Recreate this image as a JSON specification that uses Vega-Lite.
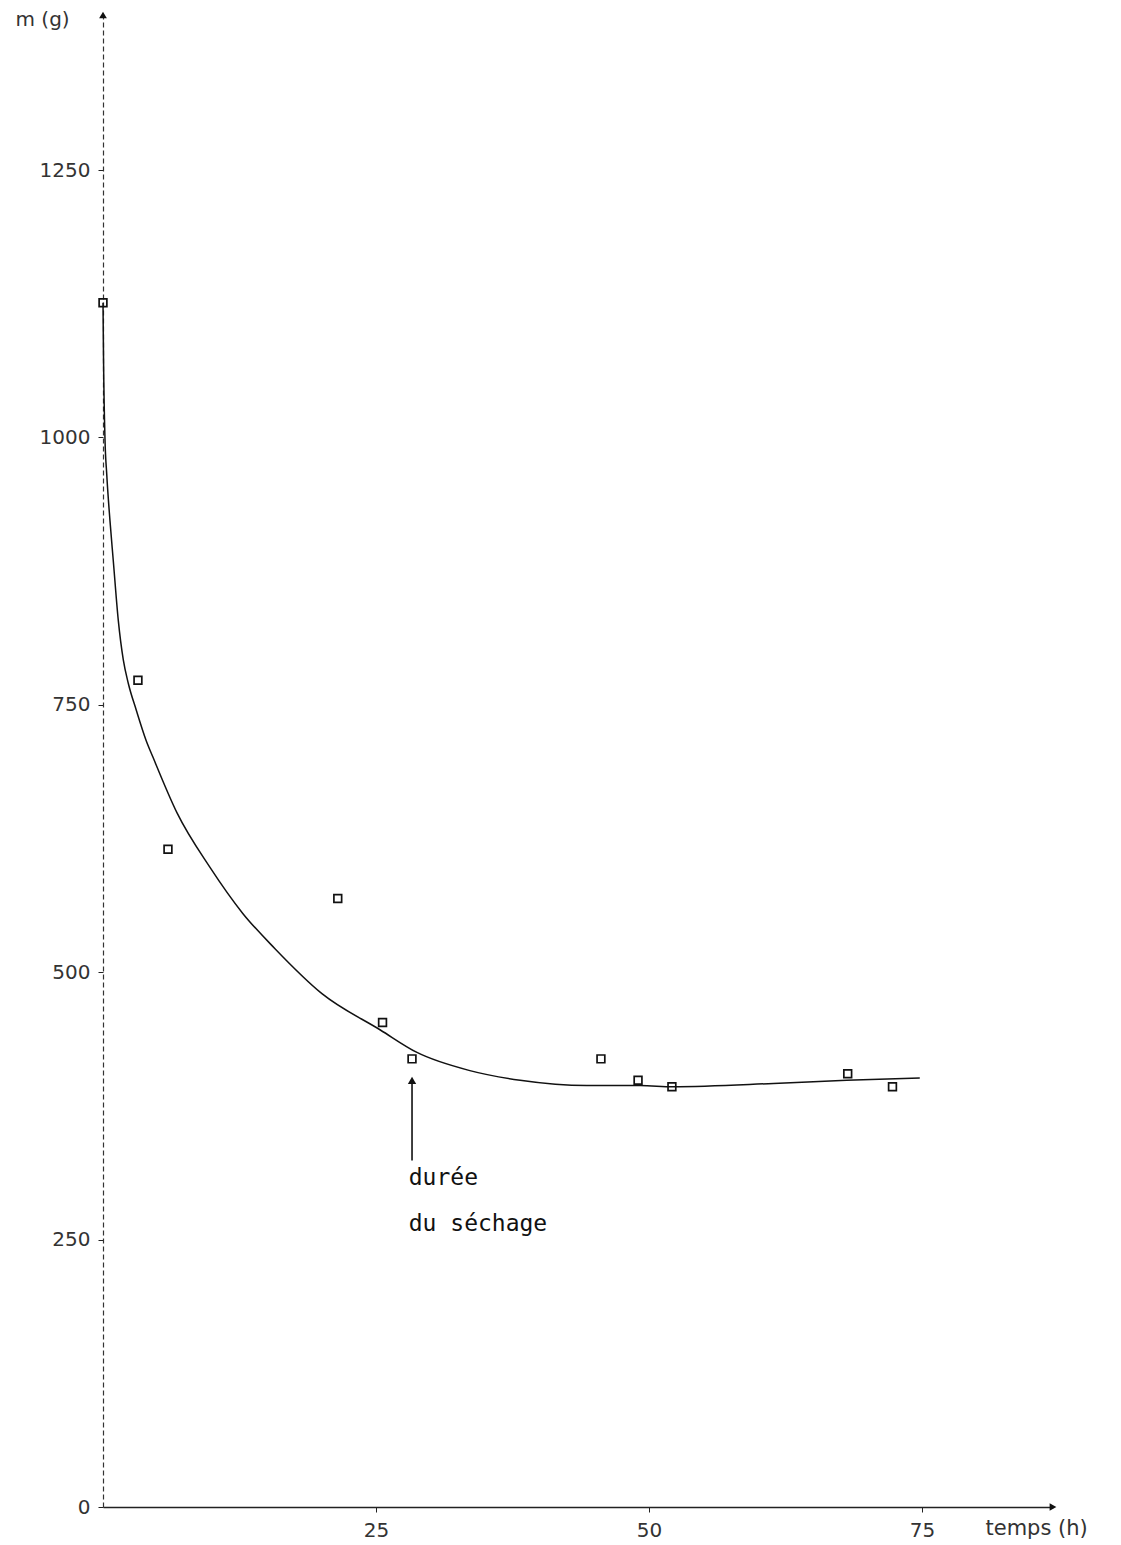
{
  "$schema": "https://vega.github.io/schema/vega-lite/v6.json",
  "autosize": {"type": "none"},
  "width": 950,
  "height": 1492,
  "padding": {"left": 103, "top": 15, "right": 68, "bottom": 38},
  "background": "white",
  "config": {"view": {"stroke": null}},
  "datasets": {
    "points": [
      {"t": 0, "m": 1126},
      {"t": 3.2, "m": 773},
      {"t": 5.95, "m": 615},
      {"t": 21.5, "m": 569},
      {"t": 25.6, "m": 453},
      {"t": 28.3, "m": 419},
      {"t": 45.6, "m": 419},
      {"t": 49.0, "m": 399},
      {"t": 52.1, "m": 393},
      {"t": 68.2, "m": 405},
      {"t": 72.3, "m": 393}
    ],
    "curve": [
      {"t": 0.0, "m": 1126},
      {"t": 0.05, "m": 1072},
      {"t": 0.18, "m": 999},
      {"t": 0.34, "m": 966},
      {"t": 0.64, "m": 922},
      {"t": 0.94, "m": 885},
      {"t": 1.40, "m": 829},
      {"t": 1.86, "m": 792},
      {"t": 2.32, "m": 770},
      {"t": 3.05, "m": 745},
      {"t": 3.94, "m": 717},
      {"t": 4.58, "m": 701},
      {"t": 6.78, "m": 649},
      {"t": 9.8, "m": 598},
      {"t": 12.8, "m": 555},
      {"t": 15.75, "m": 522},
      {"t": 20.05, "m": 480},
      {"t": 25.4, "m": 446},
      {"t": 28.75, "m": 425},
      {"t": 33.6, "m": 408},
      {"t": 38.2, "m": 399},
      {"t": 44.3, "m": 394},
      {"t": 49.2, "m": 394},
      {"t": 52.2, "m": 393},
      {"t": 61.4, "m": 396},
      {"t": 68.1, "m": 399},
      {"t": 74.8, "m": 401}
    ],
    "annot": [
      {"t": 28.3, "m": 324, "m2": 399}
    ],
    "labels": [
      {"t": 28, "m": 308, "txt": "durée"},
      {"t": 28, "m": 265, "txt": "du séchage"}
    ],
    "arrows": [
      {"t": 0, "m": 1395, "shape": "triangle-up"},
      {"t": 87, "m": 0, "shape": "triangle-right"}
    ]
  },
  "layer": [
    {
      "data": {"name": "curve"},
      "mark": {"type": "line", "interpolate": "monotone", "color": "#111", "strokeWidth": 1.5},
      "encoding": {
        "x": {
          "field": "t", "type": "quantitative",
          "scale": {"domain": [0, 87], "nice": false, "zero": true},
          "axis": {
            "values": [25, 50, 75],
            "format": "d",
            "title": "temps (h)",
            "titleAnchor": "start",
            "titleAlign": "left",
            "titleX": 882,
            "titleY": 21,
            "titleBaseline": "middle",
            "titleFont": "DejaVu Sans",
            "titleFontSize": 21,
            "titleFontWeight": "normal",
            "titleColor": "#333",
            "labelFont": "DejaVu Sans",
            "labelFontSize": 20,
            "labelColor": "#333",
            "labelPadding": 8,
            "tickSize": 5,
            "tickColor": "#222",
            "domainColor": "#222",
            "domainWidth": 1.3,
            "grid": false
          }
        },
        "y": {
          "field": "m", "type": "quantitative",
          "scale": {"domain": [0, 1395], "nice": false, "zero": true},
          "axis": {
            "values": [0, 250, 500, 750, 1000, 1250],
            "format": "d",
            "title": "m (g)",
            "titleAngle": 0,
            "titleAlign": "left",
            "titleBaseline": "middle",
            "titleX": -88,
            "titleY": 4,
            "titleFont": "DejaVu Sans",
            "titleFontSize": 20,
            "titleFontWeight": "normal",
            "titleColor": "#333",
            "labelFont": "DejaVu Sans",
            "labelFontSize": 20,
            "labelColor": "#333",
            "labelPadding": 8,
            "tickSize": 5,
            "tickColor": "#222",
            "domainColor": "#333",
            "domainDash": [5, 3],
            "domainWidth": 1.2,
            "grid": false
          }
        }
      }
    },
    {
      "data": {"name": "points"},
      "mark": {"type": "point", "shape": "square", "filled": false, "color": "#111", "size": 60, "strokeWidth": 1.7, "opacity": 1},
      "encoding": {
        "x": {"field": "t", "type": "quantitative"},
        "y": {"field": "m", "type": "quantitative"}
      }
    },
    {
      "data": {"name": "annot"},
      "mark": {"type": "rule", "color": "#111", "strokeWidth": 1.6},
      "encoding": {
        "x": {"field": "t", "type": "quantitative"},
        "y": {"field": "m", "type": "quantitative"},
        "y2": {"field": "m2"}
      }
    },
    {
      "data": {"name": "annot"},
      "mark": {"type": "point", "shape": "triangle-up", "filled": true, "color": "#111", "size": 70, "opacity": 1},
      "encoding": {
        "x": {"field": "t", "type": "quantitative"},
        "y": {"field": "m2", "type": "quantitative"}
      }
    },
    {
      "data": {"name": "labels"},
      "mark": {"type": "text", "align": "left", "baseline": "middle", "font": "DejaVu Sans Mono", "fontSize": 23, "color": "#111"},
      "encoding": {
        "x": {"field": "t", "type": "quantitative"},
        "y": {"field": "m", "type": "quantitative"},
        "text": {"field": "txt"}
      }
    },
    {
      "data": {"name": "arrows"},
      "mark": {"type": "point", "filled": true, "color": "#111", "size": 60, "opacity": 1},
      "encoding": {
        "x": {"field": "t", "type": "quantitative"},
        "y": {"field": "m", "type": "quantitative"},
        "shape": {"field": "shape", "type": "nominal", "scale": null, "legend": null}
      }
    }
  ]
}
